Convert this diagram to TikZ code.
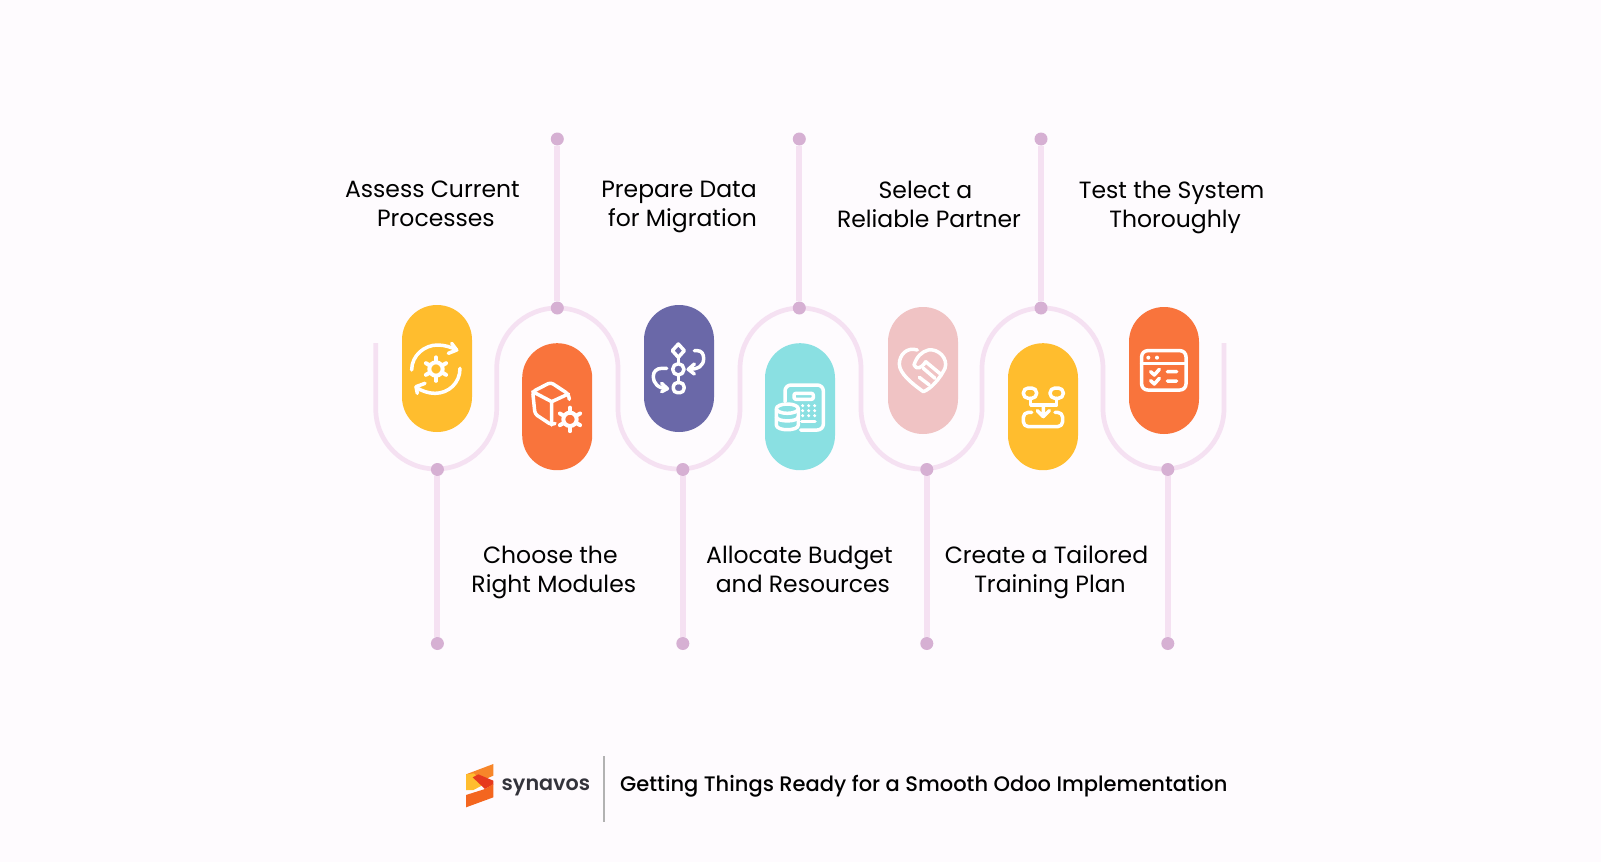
\documentclass[tikz,border=0pt]{standalone}
\usepackage{fontspec}
\setmainfont{Poppins}
\newfontfamily\footfont{Poppins Medium}
\newfontfamily\brandfont{Poppins SemiBold}
\usetikzlibrary{positioning,calc}

\definecolor{pagebg}{HTML}{FEFBFE}
\definecolor{waveline}{HTML}{F5E1F2}
\definecolor{dotcol}{HTML}{D6B0D3}
\definecolor{pillyellow}{HTML}{FFBD2E}
\definecolor{pillorange}{HTML}{F9743C}
\definecolor{pillpurple}{HTML}{6A68A8}
\definecolor{pillteal}{HTML}{8AE0E2}
\definecolor{pillpink}{HTML}{F0C3C4}
\definecolor{logodark}{HTML}{33333B}
\definecolor{logotop}{HTML}{F7862A}
\definecolor{logobot}{HTML}{F4661F}
\definecolor{logored}{HTML}{E63A1E}

\newcommand{\linea}{\vphantom{Apg}}
\newcommand{\lineb}{\hspace*{7pt}\vphantom{Apg}}
\newcommand{\geartool}[2]{%
  \draw[gearline] (#1,#2) circle (20);
  \foreach \a in {90,150,...,450} \draw[gearline] ($(#1,#2)+(\a:22)$) -- ($(#1,#2)+(\a:35)$);
}

\tikzset{
  wave/.style={line width=4.7pt, draw=waveline, rounded corners=60.4pt},
  stem/.style={line width=6pt, draw=waveline},
  wdot/.style={circle, fill=dotcol, minimum size=13pt, inner sep=0pt},
  pill/.style={rectangle, rounded corners=34.9pt, minimum width=70pt, minimum height=127pt, inner sep=0pt},
  steplabel/.style={align=center, inner sep=0pt, font=\fontsize{23.5}{29}\selectfont, text=black},
  icon/.style={draw=white, line width=3.5pt, line cap=round, line join=round},
  gearline/.style={draw=white, line width=4pt, line cap=round},
  zoomA/.style={shift={(360,290)}, scale=1/3},
  zoomB/.style={shift={(760,290)}, scale=1/3},
  zoomC/.style={shift={(450,740)}, scale=1/3},
}

\begin{document}
\begin{tikzpicture}[x=1pt,y=-1pt]
\useasboundingbox (0,0) rectangle (1601,862);
\fill[pagebg] (0,0) rectangle (1601,862);

% the wavy band
\coordinate (wstart) at (375.7,343);
\coordinate (wend) at (1224,343);
\draw[wave] (wstart) -- (375.7,469) -- (496.7,469) -- (496.7,308) -- (618,308) -- (618,469)
  -- (740,469) -- (740,308) -- (861,308) -- (861,469) -- (982,469) -- (982,308)
  -- (1103,308) -- (1103,469) -- (1224,469) -- (wend);

% dots on the band and free ends
\node[wdot] (botA) at (437.4,469.5) {};
\node[wdot] (botB) at (682.8,469.5) {};
\node[wdot] (botC) at (926.8,469.5) {};
\node[wdot] (botD) at (1167.8,469.5) {};
\node[wdot] (topA) at (557.3,308) {};
\node[wdot] (topB) at (799.3,308) {};
\node[wdot] (topC) at (1041,308) {};
\node[wdot] (endA) at (437.4,643.5) {};
\node[wdot] (endB) at (682.8,643.5) {};
\node[wdot] (endC) at (926.8,643.5) {};
\node[wdot] (endD) at (1167.8,643.5) {};
\node[wdot] (capA) at (557.3,139) {};
\node[wdot] (capB) at (799.3,139) {};
\node[wdot] (capC) at (1041,139) {};

\foreach \p/\q in {botA/endA,botB/endB,botC/endC,botD/endD,topA/capA,topB/capB,topC/capC}
  \draw[stem] (\p) -- (\q);

% pills
\node[pill, fill=pillyellow] (pillA) at (437,368.5) {};
\node[pill, fill=pillorange] (pillB) at (557.2,406.7) {};
\node[pill, fill=pillpurple] (pillC) at (679,368.5) {};
\node[pill, fill=pillteal] (pillD) at (800,406.7) {};
\node[pill, fill=pillpink] (pillE) at (923,370.5) {};
\node[pill, fill=pillyellow] (pillF) at (1043,406.7) {};
\node[pill, fill=pillorange] (pillG) at (1164,370.5) {};

% labels
\node[steplabel] (textA) at (432.4,207) {\linea Assess Current\\\lineb Processes};
\node[steplabel] (textB) at (550.3,572) {\linea Choose the\\\lineb Right Modules};
\node[steplabel] (textC) at (679,207) {\linea Prepare Data\\\lineb for Migration};
\node[steplabel] (textD) at (799.4,572) {\linea Allocate Budget\\\lineb and Resources};
\node[steplabel] (textE) at (925.5,207) {\linea Select a\\\lineb Reliable Partner};
\node[steplabel] (textF) at (1046.5,572) {\linea Create a Tailored\\\lineb Training Plan};
\node[steplabel] (textG) at (1171.6,207) {\linea Test the System\\\lineb Thoroughly};

% icon: gear with arrows
\begin{scope}[zoomA]
\geartool{228}{237}
\draw[icon] (155,240) .. controls (155,195) and (195,165) .. (232,165) .. controls (255,165) and (275,172) .. (290,180);
\draw[icon] (275,160) -- (290,180) -- (265,190);
\draw[icon] (300,235) .. controls (300,280) and (265,310) .. (225,310) .. controls (205,310) and (185,303) .. (168,292);
\draw[icon] (172,310) -- (168,290) -- (195,280);
% icon: cube with gear
\draw[icon, rounded corners=3pt] (628,328) -- (625,312) -- (572,277) -- (518,305) -- (525,372) -- (575,405) -- (585,400);
\draw[icon] (518,305) -- (575,335) -- (625,312) (575,335) -- (575,405);
\geartool{630}{388}
% icon: flow with arrows
\draw[icon] (955,162) -- (973,182) -- (955,202) -- (937,182) -- cycle;
\draw[icon] (955,238) circle (17);
\draw[icon, rounded corners=4pt] (940,278) rectangle (972,308);
\draw[icon] (955,202) -- (955,221) (955,255) -- (955,278);
\draw[icon] (1003,182) -- (1012,182) .. controls (1025,182) and (1031,192) .. (1031,205) .. controls (1031,228) and (1015,238) .. (985,238);
\draw[icon] (1003,222) -- (985,238) -- (1003,252);
\draw[icon] (920,235) -- (905,235) .. controls (890,235) and (880,245) .. (880,258) .. controls (880,282) and (895,295) .. (922,296);
\draw[icon] (905,280) -- (922,296) -- (905,305);
\end{scope}

% icon: calculator and coins
\begin{scope}[zoomB]
\draw[icon, rounded corners=6pt] (75,335) -- (75,285) -- (190,285) -- (190,420) -- (122,420);
\draw[icon, rounded corners=2pt] (102,310) rectangle (160,328);
\foreach \x in {128,146,164} \foreach \y in {347,362,377} \fill[white] (\x,\y) circle (5);
\draw[icon] (125,395) -- (165,395);
\draw[icon] (82,356) ellipse (33 and 14);
\draw[icon] (49,356) -- (49,405) .. controls (49,424) and (115,424) .. (115,405) -- (115,356);
\draw[icon] (49,380) .. controls (49,397) and (115,397) .. (115,380);
% icon: handshake heart
\draw[icon] (472,180) .. controls (440,170) and (418,195) .. (418,222) .. controls (418,250) and (455,280) .. (490,305) .. controls (515,295) and (540,265) .. (555,235) .. controls (565,205) and (535,175) .. (505,180) .. controls (485,185) and (470,200) .. (462,225) .. controls (470,240) and (485,235) .. (497,215);
\draw[icon] (497,215) -- (545,255);
\draw[icon] (525,265) -- (490,235);
\draw[icon] (508,285) -- (478,262);
% icon: tray with flow
\draw[icon, rounded corners=5pt] (790,294) rectangle (830,325);
\draw[icon, rounded corners=5pt] (870,294) rectangle (910,325);
\draw[icon] (812,325) -- (812,345) -- (890,345) -- (890,325);
\draw[icon] (850,345) -- (850,380) (832,362) -- (850,380) -- (868,362);
\draw[icon, rounded corners=5pt] (815,367) -- (790,367) -- (790,410) -- (908,410) -- (908,367) -- (885,367);
% icon: checklist window
\draw[icon, rounded corners=6pt] (1145,182) rectangle (1278,300);
\draw[icon] (1145,220) -- (1278,220);
\fill[white] (1165,203) circle (6) (1191,203) circle (6);
\draw[icon] (1172,245) -- (1183,255) -- (1198,238) (1222,245) -- (1250,245);
\draw[icon] (1172,272) -- (1183,282) -- (1198,265) (1222,273) -- (1250,273);
\end{scope}

% footer
\begin{scope}[zoomC]
\fill[logotop] (48,103) -- (130,72) -- (130,107) -- (100,120) -- (48,150) -- cycle;
\fill[pillyellow] (48,103) -- (72,100) -- (105,132) -- (70,150) -- (48,150) -- cycle;
\fill[logored] (68,112) -- (85,103) -- (130,122) -- (130,133) -- (105,147) -- cycle;
\fill[logobot] (48,165) -- (105,147) -- (130,132) -- (130,172) -- (48,202) -- cycle;
\end{scope}
\node[anchor=west, inner sep=0pt, font=\brandfont\fontsize{20.7}{26}\selectfont, text=logodark] (logotext) at (501.5,787) {synavos};
\coordinate (ruletop) at (604,756);
\coordinate (rulebot) at (604,822);
\draw[line width=1.3pt, draw=black!30] (ruletop) -- (rulebot);
\node[anchor=west, inner sep=0pt, font=\footfont\fontsize{21}{26}\selectfont, text=black] (footer) at (620,786) {Getting Things Ready for a Smooth Odoo Implementation};
\end{tikzpicture}
\end{document}
